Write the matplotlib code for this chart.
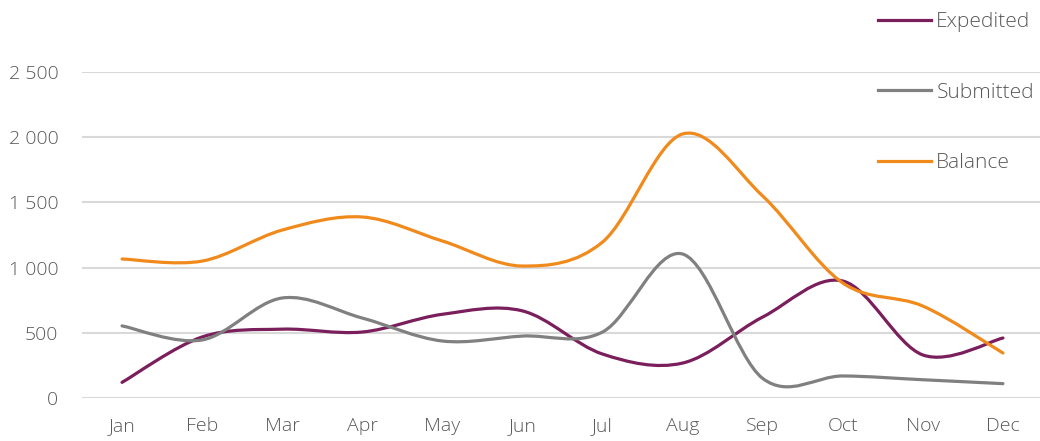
import numpy as np
import matplotlib.pyplot as plt
from matplotlib.path import Path
from matplotlib.patches import PathPatch
from matplotlib.lines import Line2D

months = ["Jan", "Feb", "Mar", "Apr", "May", "Jun",
          "Jul", "Aug", "Sep", "Oct", "Nov", "Dec"]
expedited = [120, 468, 528, 506, 642, 668, 337, 268, 621, 897, 330, 460]
submitted = [553, 445, 767, 613, 437, 475, 506, 1104, 150, 169, 140, 110]
balance = [1066, 1050, 1288, 1388, 1204, 1012, 1196, 2025, 1549, 882, 705, 345]

series = [("Expedited", expedited, "#7a1f5c"),
          ("Submitted", submitted, "#808080"),
          ("Balance", balance, "#f08a1c")]

plt.rcParams['font.family'] = ['Open Sans', 'DejaVu Sans']
plt.rcParams['font.weight'] = 'light'


def smooth_path(xs, ys):
    # Excel-like smoothed line: cubic bezier, control points from neighbours / 6
    pts = np.column_stack([xs, ys]).astype(float)
    n = len(pts)
    verts = [pts[0]]
    codes = [Path.MOVETO]
    for i in range(n - 1):
        p0 = pts[i - 1] if i > 0 else pts[i]
        p1 = pts[i]
        p2 = pts[i + 1]
        p3 = pts[i + 2] if i + 2 < n else pts[i + 1]
        c1 = p1 + (p2 - p0) / 6.0
        c2 = p2 - (p3 - p1) / 6.0
        verts += [c1, c2, p2]
        codes += [Path.CURVE4] * 3
    return Path(verts, codes)


fig = plt.figure(figsize=(10.4, 4.41), dpi=100)
ax = fig.add_axes([82 / 1040, 43 / 441, 961 / 1040, 326 / 441])

x = np.arange(len(months))
handles = []
for name, vals, col in series:
    patch = PathPatch(smooth_path(x, vals), facecolor="none", edgecolor=col,
                      lw=2.3, capstyle="round", clip_on=False, zorder=3)
    ax.add_patch(patch)
    handles.append(Line2D([], [], color=col, lw=2.3, label=name))

ax.set_xlim(-0.5, 11.5)
ax.set_ylim(0, 2500)
ax.set_xticks(x)
ax.set_xticklabels(months)
yt = np.arange(0, 2501, 500)
ax.set_yticks(yt)
ax.set_yticklabels([f"{v:,}".replace(",", " ") for v in yt])
ax.tick_params(length=0, labelsize=14, labelcolor="#595959")
ax.tick_params(axis="y", pad=17)
ax.tick_params(axis="x", pad=14)
for s in ax.spines.values():
    s.set_visible(False)
ax.grid(axis="y", color="#d9d9d9", lw=1.5)
ax.set_axisbelow(True)

fig.legend(handles=handles, loc="upper left", bbox_to_anchor=(878 / 1040, 1 - 12 / 441),
           frameon=False, fontsize=15, labelcolor="#595959", handlelength=2.55,
           handletextpad=0.25, labelspacing=2.43, borderpad=0, borderaxespad=0)

fig.savefig("out.png", dpi=100)
